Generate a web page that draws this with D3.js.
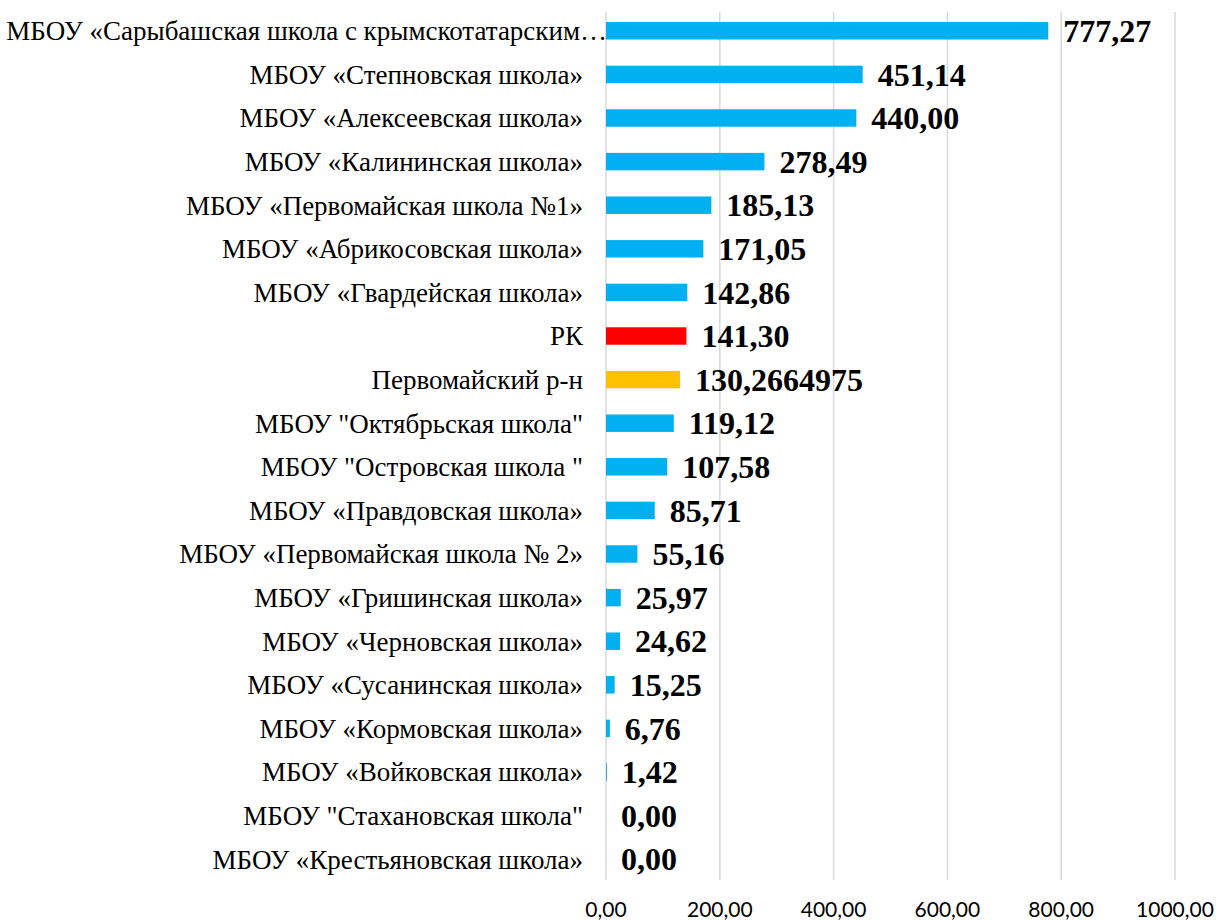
<!DOCTYPE html>
<html>
<head>
<meta charset="utf-8">
<script src="https://cdn.jsdelivr.net/npm/d3@7"></script>
<style>
  body { margin: 0; background: #fff; }
</style>
</head>
<body>
<script>
var width = 1216, height = 920;

var schools = [
  "МБОУ «Сарыбашская школа с крымскотатарским…",
  "МБОУ «Степновская школа»",
  "МБОУ «Алексеевская школа»",
  "МБОУ «Калининская школа»",
  "МБОУ «Первомайская школа №1»",
  "МБОУ «Абрикосовская школа»",
  "МБОУ «Гвардейская школа»",
  "РК",
  "Первомайский р-н",
  "МБОУ \"Октябрьская школа\"",
  "МБОУ \"Островская школа \"",
  "МБОУ «Правдовская школа»",
  "МБОУ «Первомайская школа № 2»",
  "МБОУ «Гришинская школа»",
  "МБОУ «Черновская школа»",
  "МБОУ «Сусанинская школа»",
  "МБОУ «Кормовская школа»",
  "МБОУ «Войковская школа»",
  "МБОУ \"Стахановская школа\"",
  "МБОУ «Крестьяновская школа»"
];
var values = [777.27, 451.14, 440.00, 278.49, 185.13, 171.05, 142.86, 141.30, 130.2664975,
  119.12, 107.58, 85.71, 55.16, 25.97, 24.62, 15.25, 6.76, 1.42, 0, 0];
var valueLabels = ["777,27", "451,14", "440,00", "278,49", "185,13", "171,05", "142,86", "141,30",
  "130,2664975", "119,12", "107,58", "85,71", "55,16", "25,97", "24,62", "15,25", "6,76", "1,42", "0,00", "0,00"];
var ticks = [0, 200, 400, 600, 800, 1000];

var data = schools.map(function(s, i) {
  return { name: s, value: values[i], label: valueLabels[i] };
});

function barColor(name) {
  if (name === "РК") return "#ff0000";
  if (name === "Первомайский р-н") return "#ffc000";
  return "#00b0f0";
}

var x = d3.scaleLinear().domain([0, 1000]).range([606, 1175]);
var y = d3.scaleBand().domain(schools).range([9, 881]).paddingInner(0.6).paddingOuter(0.3);

var svg = d3.select("body").append("svg")
  .attr("width", width)
  .attr("height", height);

// gridlines
svg.append("g").selectAll("line")
  .data(ticks)
  .enter().append("line")
  .attr("x1", function(d) { return x(d); })
  .attr("x2", function(d) { return x(d); })
  .attr("y1", 12)
  .attr("y2", 880)
  .attr("stroke", "#d9d9d9")
  .attr("stroke-width", 1.5);

// tick labels
svg.append("g").selectAll("text")
  .data(ticks)
  .enter().append("text")
  .attr("x", function(d) { return x(d); })
  .attr("y", 917)
  .attr("text-anchor", "middle")
  .attr("font-family", "Lato, 'Open Sans', sans-serif")
  .attr("font-size", 21)
  .attr("fill", "#000")
  .text(function(d) { return d + ",00"; });

// bars
svg.append("g").selectAll("rect")
  .data(data)
  .enter().append("rect")
  .attr("x", x(0))
  .attr("y", function(d) { return y(d.name); })
  .attr("width", function(d) { return x(d.value) - x(0); })
  .attr("height", y.bandwidth())
  .attr("fill", function(d) { return barColor(d.name); });

// category labels (the first one is cut by the chart and runs up to the axis)
svg.append("g").selectAll("text")
  .data(data)
  .enter().append("text")
  .attr("x", function(d, i) { return i === 0 ? 607 : 583; })
  .attr("y", function(d) { return y(d.name) + y.bandwidth() / 2; })
  .attr("dy", "0.35em")
  .attr("text-anchor", "end")
  .attr("font-family", "'Liberation Serif', 'Times New Roman', serif")
  .attr("font-size", 27)
  .attr("fill", "#000")
  .text(function(d) { return d.name; });

// value labels
svg.append("g").selectAll("text")
  .data(data)
  .enter().append("text")
  .attr("x", function(d) { return x(d.value) + 15; })
  .attr("y", function(d) { return y(d.name) + y.bandwidth() / 2; })
  .attr("dy", "0.35em")
  .attr("font-family", "'Liberation Serif', 'Times New Roman', serif")
  .attr("font-weight", "bold")
  .attr("font-size", 32)
  .attr("fill", "#000")
  .text(function(d) { return d.label; });
</script>
</body>
</html>
